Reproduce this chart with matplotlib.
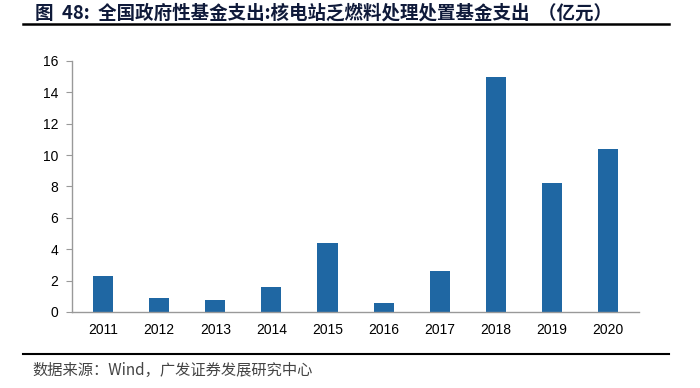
import matplotlib
matplotlib.use("Agg")
import matplotlib.pyplot as plt
from matplotlib.lines import Line2D

plt.rcParams['font.family'] = ['Liberation Sans', 'Noto Sans CJK SC', 'DejaVu Sans']

years = ["2011", "2012", "2013", "2014", "2015", "2016", "2017", "2018", "2019", "2020"]
spending = [2.3, 0.9, 0.75, 1.6, 4.4, 0.57, 2.6, 15.0, 8.2, 10.4]
y_ticks = [0, 2, 4, 6, 8, 10, 12, 14, 16]

title = "图  48:  全国政府性基金支出:核电站乏燃料处理处置基金支出  （亿元）"
source = "数据来源：Wind，广发证券发展研究中心"

fig = plt.figure(figsize=(7, 3.88), dpi=100)
ax = fig.add_axes([0.103, 0.196, 0.81, 0.647])

ax.bar(range(len(years)), spending, width=0.36, color="#1f67a3")
ax.set_xlim(-0.55, 9.55)
ax.set_ylim(0, 16)
ax.set_yticks(y_ticks)
ax.set_xticks(range(len(years)))
ax.set_xticklabels(years)
ax.tick_params(axis="x", length=0, pad=8, labelsize=10)
ax.tick_params(axis="y", length=4, color="#999999", labelsize=10, pad=6)
for side in ("top", "right"):
    ax.spines[side].set_visible(False)
for side in ("left", "bottom"):
    ax.spines[side].set_color("#999999")
    ax.spines[side].set_linewidth(1)

fig.text(0.05, 0.966, title, fontsize=13.3, fontweight="bold", color="#0f1a3a",
         family=["Noto Sans CJK SC", "DejaVu Sans"], va="center")
fig.add_artist(Line2D([0.033, 0.955], [0.937, 0.937], color="black", lw=1.8,
                      transform=fig.transFigure))
fig.add_artist(Line2D([0.033, 0.955], [0.088, 0.088], color="black", lw=1.5,
                      transform=fig.transFigure))
fig.text(0.047, 0.046, source, fontsize=11, color="#444444",
         family=["Noto Sans CJK SC", "DejaVu Sans"], va="center")

fig.savefig("out.png", dpi=100)
